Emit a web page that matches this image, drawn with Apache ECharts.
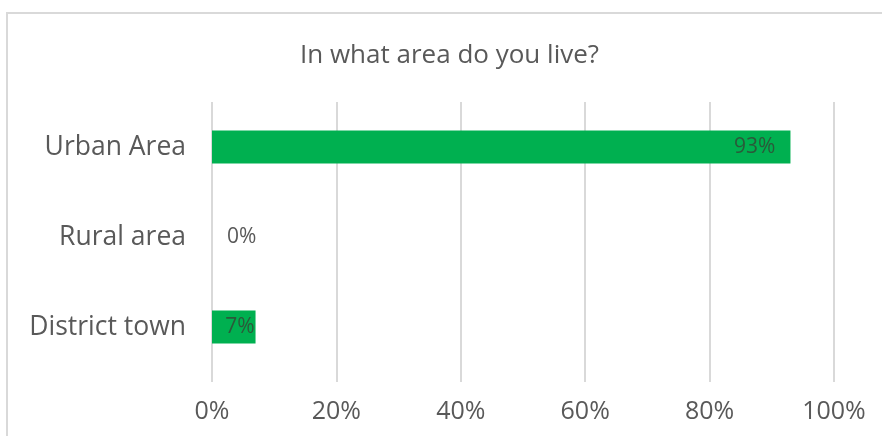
<!DOCTYPE html>
<html>
<head>
<meta charset="utf-8">
<script src="https://cdn.jsdelivr.net/npm/echarts@6/dist/echarts.min.js"></script>
<style>
  html, body { margin: 0; padding: 0; background: #fff; }
  #chart { width: 882px; height: 436px; }
</style>
</head>
<body>
<div id="chart"></div>
<script>
// Survey answers: share of respondents per living area
const titleText = 'In what area do you live?';
const categories = ['District town', 'Rural area', 'Urban Area'];
const shares = [7, 0, 93];
const tickValues = [0, 20, 40, 60, 80, 100];

const FONT = '"Open Sans", "Noto Sans", sans-serif';
const GRAY = '#595959';
const GREEN = '#00B050';

const chart = echarts.init(document.getElementById('chart'), null, { renderer: 'canvas' });

// Per-bar label placement: inside the end of visible bars, just outside for empty ones
const barData = shares.map(function (v) {
  if (v === 0) {
    return {
      value: v,
      label: { position: 'right', distance: 15, color: GRAY }
    };
  }
  return {
    value: v,
    label: { position: 'insideRight', distance: v > 50 ? 15 : 1, color: '#2a5a3a' }
  };
});

chart.setOption({
  animation: false,
  backgroundColor: '#ffffff',
  graphic: [{
    type: 'rect',
    shape: { x: 7, y: 13, width: 900, height: 440 },
    style: { fill: 'none', stroke: '#d9d9d9', lineWidth: 2 },
    silent: true
  }],
  title: {
    text: titleText,
    left: 295,
    top: 38,
    textStyle: { fontFamily: FONT, fontSize: 26, fontWeight: 'normal', color: GRAY }
  },
  grid: { left: 212, right: 48, top: 102, bottom: 64, containLabel: false },
  xAxis: {
    type: 'value',
    min: 0,
    max: 100,
    interval: 20,
    axisLine: { show: false },
    axisTick: { show: true, length: 10, lineStyle: { color: '#d9d9d9', width: 2 } },
    splitLine: { show: true, lineStyle: { color: '#d9d9d9', width: 2 } },
    axisLabel: {
      margin: 27,
      fontFamily: FONT,
      fontSize: 25,
      color: GRAY,
      formatter: function (v) { return tickValues.indexOf(v) >= 0 ? v + '%' : ''; }
    }
  },
  yAxis: {
    type: 'category',
    data: categories,
    axisLine: { show: false },
    axisTick: { show: false },
    axisLabel: { margin: 26, fontFamily: FONT, fontSize: 26.5, color: GRAY }
  },
  series: [{
    type: 'bar',
    data: barData,
    barWidth: 33,
    itemStyle: { color: GREEN },
    label: {
      show: true,
      fontFamily: FONT,
      fontSize: 21,
      formatter: function (p) { return p.value + '%'; }
    }
  }]
});
</script>
</body>
</html>
